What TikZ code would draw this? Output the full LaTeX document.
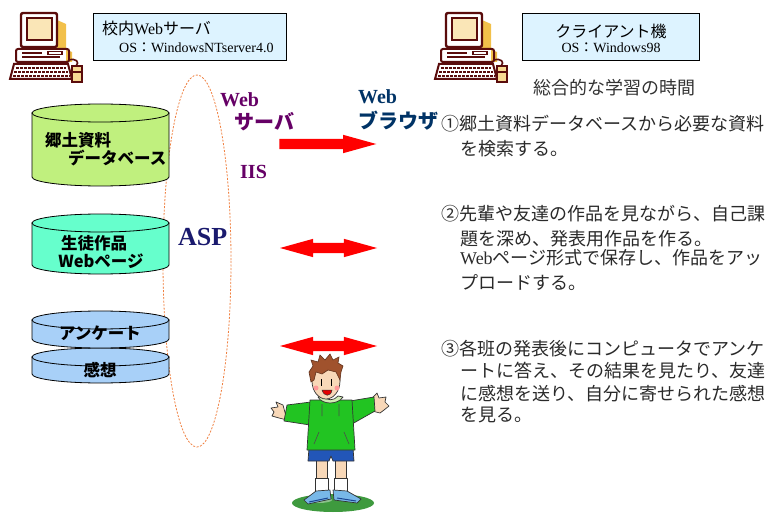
\documentclass[tikz,border=0pt]{standalone}
\usepackage{fontspec}
\setmainfont{Liberation Serif}
\newfontfamily\jp{Noto Sans CJK JP}
\usetikzlibrary{shapes.arrows}

\definecolor{maroon}{HTML}{5A0C0C}
\definecolor{glow}{HTML}{F2C04A}
\definecolor{boxfill}{HTML}{DDF3FF}
\definecolor{dbgreen}{HTML}{C0F07E}
\definecolor{dbcyan}{HTML}{66FFCC}
\definecolor{dbblue}{HTML}{A8D0F8}
\definecolor{srvpurple}{HTML}{660066}
\definecolor{brnavy}{HTML}{003366}
\definecolor{aspnavy}{HTML}{1A1A6E}
\definecolor{frameorange}{HTML}{F08040}
\definecolor{bodytext}{HTML}{2A2A2A}
\definecolor{skin}{HTML}{F8D8B8}
\definecolor{hoodie}{HTML}{22C422}
\definecolor{shorts}{HTML}{2256B8}
\definecolor{hair}{HTML}{A0522D}
\definecolor{shoe}{HTML}{78B8E8}
\definecolor{grass}{HTML}{3E9A3E}

% database drum: centre x, top ellipse y, bottom ellipse y, fill colour
\newcommand\drum[4]{%
  \filldraw[fill=#4, draw=black, line width=0.8]
    ({#1-68.5},#2) -- ({#1-68.5},#3)
    arc[start angle=180, end angle=0, x radius=68.5, y radius=9]
    -- ({#1+68.5},#2) -- cycle;
  \filldraw[fill=#4, draw=black, line width=0.8] (#1,#2) ellipse [x radius=68.5, y radius=9];
}

% desktop computer icon, top-left corner at (#1,#2)
\newcommand\pcicon[2]{%
  \begin{scope}[shift={(#1,#2)}]
    \fill[glow] (55,20) -- (64,24) -- (64,50) -- (55,50) -- cycle;
    \fill[glow] (64,50) -- (70,52) -- (70,62) -- (64,62) -- cycle;
    \fill[glow!70] (26,19) rectangle (49,39);
    \draw[maroon, line width=2.4, fill=white, rounded corners=2] (19,13) rectangle (55,47);
    \draw[maroon, line width=1.6, fill=glow!40] (25,18) rectangle (50,40);
    \draw[maroon, line width=2] (14,49) [rounded corners=2] rectangle (67,62);
    \draw[maroon, line width=1.4] (20,53) -- (40,53) (20,57) -- (58,57);
    \draw[maroon, line width=1.2] (46,51.5) rectangle (60,54.5);
    \draw[maroon, line width=2, fill=white] (12,64) -- (66,64) -- (70,79) -- (8,79) -- cycle;
    \draw[maroon, line width=1.3, dash pattern=on 2.5pt off 1.5pt] (14,68) -- (64,68) (12,72) -- (66,72) (11,76) -- (68,76);
    \draw[maroon, line width=1.6] (67,60) .. controls (74,58) and (78,62) .. (74,66);
    \draw[maroon, line width=1.8, fill=glow!60] (70,66) rectangle (80,82);
    \draw[maroon, line width=1.2] (70,72) -- (80,72);
  \end{scope}
}

\tikzset{
  labelbox/.style={draw=black, fill=boxfill, line width=0.9, inner sep=0pt},
  drumtext/.style={font=\jp\bfseries\fontsize{16.5}{18}\selectfont, inner sep=0pt, text=black},
  desc/.style={font=\jp\fontsize{18}{20}\selectfont, anchor=base west, inner sep=0pt, text=bodytext},
  srvtext/.style={font=\bfseries\fontsize{20}{22}\selectfont, text=srvpurple, inner sep=0pt, anchor=base west},
  brtext/.style={font=\bfseries\fontsize{20}{22}\selectfont, text=brnavy, inner sep=0pt, anchor=base west},
  onearrow/.style={single arrow, fill=red, draw=none, minimum height=97pt, minimum width=18pt,
    inner xsep=0pt, inner ysep=5pt, single arrow head extend=4pt, single arrow tip angle=31,
    single arrow head indent=0pt},
  twoarrow/.style={double arrow, fill=red, draw=none, minimum height=97pt, minimum width=18pt,
    inner xsep=0pt, inner ysep=5pt, double arrow head extend=4pt, double arrow tip angle=31,
    double arrow head indent=0pt},
  outline/.style={draw=black!80, line width=0.7, line join=round},
}

\begin{document}
\begin{tikzpicture}[x=1pt, y=-1pt]
\useasboundingbox (0,0) rectangle (774,513);
\fill[white] (0,0) rectangle (774,513);

% ---------- computers and their labels ----------
\pcicon{2}{0}
\pcicon{427}{0}

\node[labelbox, minimum width=193pt, minimum height=47pt] (srvbox) at (189.5,36.5) {};
\node[font=\fontsize{16}{18}\selectfont, anchor=base west, inner sep=0pt] (srvname) at (102,35)
  {{\jp 校内}Web{\jp サーバ}};
\node[font=\fontsize{14}{16}\selectfont, anchor=base west, inner sep=0pt] (srvos) at (119,53)
  {OS{\jp ：}WindowsNTserver4.0};

\node[labelbox, minimum width=177pt, minimum height=47pt] (clbox) at (610.5,36.5) {};
\node[font=\jp\fontsize{16}{18}\selectfont, anchor=base, inner sep=0pt] (clname) at (611,38)
  {クライアント機};
\node[font=\fontsize{14}{16}\selectfont, anchor=base, inner sep=0pt] (clos) at (611,53)
  {OS{\jp ：}Windows98};

\node[font=\jp\fontsize{18}{20}\selectfont, text=black!80, anchor=base west, inner sep=0pt] (course) at (533,95)
  {総合的な学習の時間};

% ---------- ASP frame ----------
\draw[frameorange, line width=0.8, dash pattern=on 2pt off 1.5pt] (197,261) ellipse [x radius=34, y radius=186];

% ---------- databases ----------
\drum{100.5}{113}{177}{dbgreen}
\node[drumtext, anchor=west] (db1a) at (45,140) {郷土資料};
\node[drumtext, anchor=west] (db1b) at (68,158) {データベース};

\drum{100.5}{223}{265}{dbcyan}
\node[drumtext] (db2a) at (94,243) {生徒作品};
\node[drumtext] (db2b) at (101,261) {Webページ};

\drum{100.5}{357}{374}{dbblue}
\drum{100.5}{320}{339}{dbblue}
\node[drumtext] (db3a) at (100,333) {アンケート};
\node[drumtext] (db3b) at (100,370) {感想};

% ---------- server and browser labels ----------
\node[srvtext] (webA) at (220,107) {Web};
\node[srvtext, font=\jp\bfseries\fontsize{20}{22}\selectfont] (serverA) at (234,130) {サーバ};
\node[srvtext] (iis) at (240,179) {IIS};
\node[font=\bfseries\fontsize{26}{28}\selectfont, text=aspnavy, anchor=base west, inner sep=0pt] (asp) at (178,246) {ASP};

\node[brtext] (webB) at (358,104) {Web};
\node[brtext, font=\jp\bfseries\fontsize{20}{22}\selectfont] (browser) at (358,129) {ブラウザ};

% ---------- data flow arrows ----------
\node[onearrow, anchor=tip] (flow1) at (377,144) {};
\node[twoarrow] (flow2) at (328.5,248) {};
\node[twoarrow] (flow3) at (328.5,346) {};

% ---------- activity descriptions ----------
\node[desc] (d1a) at (441,131) {①郷土資料データベースから必要な資料};
\node[desc] (d1b) at (460,156) {を検索する。};

\node[desc] (d2a) at (441,221) {②先輩や友達の作品を見ながら、自己課};
\node[desc] (d2b) at (460,246) {題を深め、発表用作品を作る。};
\node[desc] (d2c) at (460,265) {{\rmfamily Web}ページ形式で保存し、作品をアッ};
\node[desc] (d2d) at (460,289) {プロードする。};

\node[desc] (d3a) at (441,355) {③各班の発表後にコンピュータでアンケ};
\node[desc] (d3b) at (460,377) {ートに答え、その結果を見たり、友達};
\node[desc] (d3c) at (460,400) {に感想を送り、自分に寄せられた感想};
\node[desc] (d3d) at (460,421) {を見る。};

% ---------- student ----------
\fill[grass] (333,503) ellipse [x radius=41, y radius=9];
\fill[grass!60!white] (318,500) ellipse [x radius=14, y radius=3];
% legs and socks
\filldraw[fill=skin, outline] (316,458) rectangle (327,482);
\filldraw[fill=skin, outline] (335,458) rectangle (346,482);
\filldraw[fill=white, outline] (315,478) rectangle (328,496);
\filldraw[fill=white, outline] (334,478) rectangle (347,496);
% shoes
\filldraw[fill=shoe, outline] (316,491) -- (330,490) -- (331,499) -- (308,504) -- (304,500) -- cycle;
\filldraw[fill=shoe, outline] (333,490) -- (347,491) -- (361,499) -- (357,503) -- (334,500) -- cycle;
\draw[shorts!80!black, line width=1] (309,502) -- (328,498) (337,498) -- (356,501);
% shorts
\filldraw[fill=shorts, outline] (309,448) -- (353,448) -- (354,461) -- (333,461) -- (331,456) -- (329,461) -- (308,461) -- cycle;
% sleeves and hands
\filldraw[fill=skin, outline] (283,405) -- (276,402) -- (278,407) -- (271,408) -- (274,412) -- (272,416) -- (279,418) -- (287,420) -- cycle;
\filldraw[fill=skin, outline] (372,398) -- (377,393) -- (379,398) -- (386,397) -- (385,402) -- (389,406) -- (384,410) -- (380,413) -- (372,411) -- cycle;
\filldraw[fill=hoodie, outline] (311,402) -- (287,405) -- (284,421) -- (310,425) -- cycle;
\filldraw[fill=hoodie, outline] (350,401) -- (374,397) -- (375,411) -- (352,424) -- cycle;
% body of the hoodie
\filldraw[fill=hoodie, outline] (310,400) -- (352,400) -- (355,450) -- (307,450) -- cycle;
\draw[black!70, line width=0.6] (319,432) -- (314,444) (344,432) -- (349,444) (322,404) -- (322,416) (339,404) -- (339,416);
\filldraw[fill=yellow!40!green!30, outline] (318,397) .. controls (322,405) and (338,405) .. (343,397) -- (338,396) .. controls (334,401) and (327,401) .. (323,396) -- cycle;
% head
\filldraw[fill=skin, outline] (326,381) ellipse [x radius=14, y radius=18];
\fill[red!40] (316,388) circle (2.5) (337,388) circle (2.5);
\draw[black, line width=1] (321,379) -- (321,386) (331,379) -- (331,386);
\filldraw[fill=red!90!black, draw=black!80, line width=0.5] (322,390) .. controls (324,397) and (331,397) .. (332,390) -- cycle;
% hair
\filldraw[fill=hair, draw=hair!60!black, line width=0.6]
  (311,382) -- (309,372) -- (313,366) -- (311,360) -- (318,362) -- (320,355) -- (325,360) -- (330,354) -- (333,360)
  -- (339,357) -- (338,363) -- (343,366) -- (341,372) -- (340,380) -- (336,372) -- (328,370) -- (322,374) -- (316,372) -- (314,380) -- cycle;
\end{tikzpicture}
\end{document}
